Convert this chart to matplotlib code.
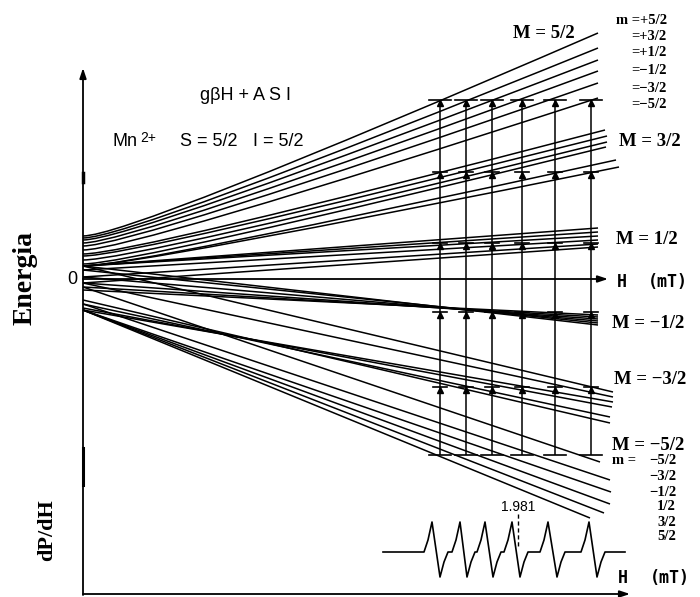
import matplotlib.pyplot as plt
from matplotlib.path import Path
from matplotlib.patches import PathPatch
import numpy as np

# everything is in picture units: x = field (left axis at x0), y = energy (down is lower)
x0 = 83

# start energies (zero field) and end points of the 36 levels, rows M = 5/2 ... -5/2,
# columns m = +5/2 ... -5/2
start_y = [
    [236, 238, 240, 243, 246, 250],
    [254, 256, 260, 264, 266, 266],
    [266, 266, 266, 270, 277, 283],
    [266, 270, 277, 283, 287, 290],
    [300, 304, 308, 310, 283, 266],
    [310, 310, 310, 310, 304, 287],
]
end_x = [
    [598, 598, 598, 598, 598, 598],
    [605, 607, 607, 606, 616, 619],
    [598, 598, 598, 598, 598, 598],
    [598, 598, 598, 598, 598, 598],
    [610, 610, 612, 613, 613, 613],
    [590, 604, 610, 611, 610, 600],
]
end_y = [
    [33, 48, 60, 71, 83, 98],
    [130, 136, 142, 147, 160, 167],
    [228, 232, 236, 240, 244, 247],
    [325, 323, 321, 319, 317, 315],
    [423, 417, 407, 402, 397, 392],
    [518, 513, 504, 492, 480, 462],
]

# resonance fields and the energies of the transitions
res_x = [440, 466, 492, 522, 555, 591]
trans_y = [455, 387, 312, 243, 172, 100]

# derivative spectrum
base_y = 552
spec_range = [383, 625]
peak_x = [432, 460, 485, 512, 548, 589]
trough_x = [440, 467, 493, 520, 557, 597]
peak_y = 522
trough_y = 577

M_names = ['M = 5/2', 'M = 3/2', 'M = 1/2', 'M = \u22121/2', 'M = \u22123/2', 'M = \u22125/2']
M_pos = [(544, 34), (650, 142), (647, 239), (648, 324), (650, 380), (648, 446)]
m_top = ['m =+5/2', '=+3/2', '=+1/2', '=\u22121/2', '=\u22123/2', '=\u22125/2']
m_top_y = [20, 36, 53, 71, 88, 105]
m_bot = ['\u22125/2', '\u22123/2', '\u22121/2', '1/2', '3/2', '5/2']
m_bot_y = [461, 477, 492, 507, 522, 537]

fig = plt.figure(figsize=(7, 5.97), dpi=100, facecolor='white')
ax = fig.add_axes([0, 0, 1, 1])
ax.set_xlim(0, 700)
ax.set_ylim(597, 0)
ax.axis('off')

# axes with arrows
arr = dict(arrowstyle='-|>,head_length=0.6,head_width=0.2', lw=1.3, color='black', shrinkA=0, shrinkB=0)
ax.annotate('', xy=(x0, 68), xytext=(x0, 595), arrowprops=arr)
ax.annotate('', xy=(630, 594), xytext=(x0, 594), arrowprops=arr)
ax.annotate('', xy=(608, 279), xytext=(x0, 279), arrowprops=arr)
ax.plot([x0, x0], [173, 182], color='black', lw=2.5)
ax.plot([x0, x0], [448, 485], color='black', lw=2.2)

# energy levels (the upper ones bend near zero field)
for i in range(6):
    for j in range(6):
        y0 = start_y[i][j]
        x1, y1 = end_x[i][j], end_y[i][j]
        if i < 2:
            c = (x0 + 0.09 * (x1 - x0), y0)
        else:
            c = ((x0 + x1) / 2, (y0 + y1) / 2)
        p = Path([(x0, y0), c, (x1, y1)], [Path.MOVETO, Path.CURVE3, Path.CURVE3])
        ax.add_patch(PathPatch(p, fill=False, lw=1.1, edgecolor='black'))

# transitions
ax.vlines(res_x, trans_y[-1], trans_y[0], color='black', lw=1.1)
for k, ty in enumerate(trans_y):
    hw = 11 if k in (0, len(trans_y) - 1) else 7
    for rx in res_x:
        ax.plot([rx - hw, rx + hw], [ty, ty], color='black', lw=1.2)
        if k > 0:
            ax.plot(rx, ty + 3, marker='^', ms=4, color='black')

# spectrum
sx = [spec_range[0]]
sy = [base_y]
for p, t in zip(peak_x, trough_x):
    sx += [p - 8, p - 4, p, t, t + 4, t + 8]
    sy += [base_y, base_y - 12, peak_y, trough_y, base_y + 10, base_y]
sx.append(spec_range[1])
sy.append(base_y)
ax.plot(sx, sy, color='black', lw=1.2)
ax.plot([517.5, 517.5], [514, 546], color='black', lw=1, ls=(0, (3, 2)))
ax.text(518, 507, '1.981', ha='center', va='center', fontsize=10, family='Liberation Sans')

# labels
serif = dict(family='Liberation Serif', weight='bold', color='black')
for name, (lx, ly) in zip(M_names, M_pos):
    ax.text(lx, ly, name, ha='center', va='center', fontsize=13.5, **serif)
for t, ty in zip(m_top, m_top_y):
    ax.text(667, ty, t, ha='right', va='center', fontsize=10.5, **serif)
ax.text(612, m_bot_y[0], 'm =', ha='left', va='center', fontsize=10.5, **serif)
for t, ty in zip(m_bot, m_bot_y):
    ax.text(676, ty, t, ha='right', va='center', fontsize=10.5, **serif)

ax.text(25, 278, 'Energia', rotation=90, ha='center', va='center', fontsize=20, **serif)
ax.text(47, 530, 'dP/dH', rotation=90, ha='center', va='center', fontsize=16, **serif)

sans = dict(family='Liberation Sans', color='black')
ax.text(246, 95, 'g\u03b2H + A S I', ha='center', va='center', fontsize=13, **sans)
ax.text(112, 142, 'Mn', ha='left', va='center', fontsize=13, **sans)
ax.text(140, 138, '2+', ha='left', va='center', fontsize=10, **sans)
ax.text(180, 142, 'S = 5/2', ha='left', va='center', fontsize=13, **sans)
ax.text(253, 142, 'I = 5/2', ha='left', va='center', fontsize=13, **sans)
ax.text(72, 280, '0', ha='center', va='center', fontsize=13, **sans)

mono = dict(family='DejaVu Sans Mono', weight='bold', color='black', fontsize=12)
ax.text(617, 282, 'H', ha='left', va='center', **mono)
ax.text(648, 282, '(mT)', ha='left', va='center', **mono)
ax.text(618, 578, 'H', ha='left', va='center', **mono)
ax.text(650, 578, '(mT)', ha='left', va='center', **mono)

fig.savefig('out.png', dpi=100, facecolor='white')
